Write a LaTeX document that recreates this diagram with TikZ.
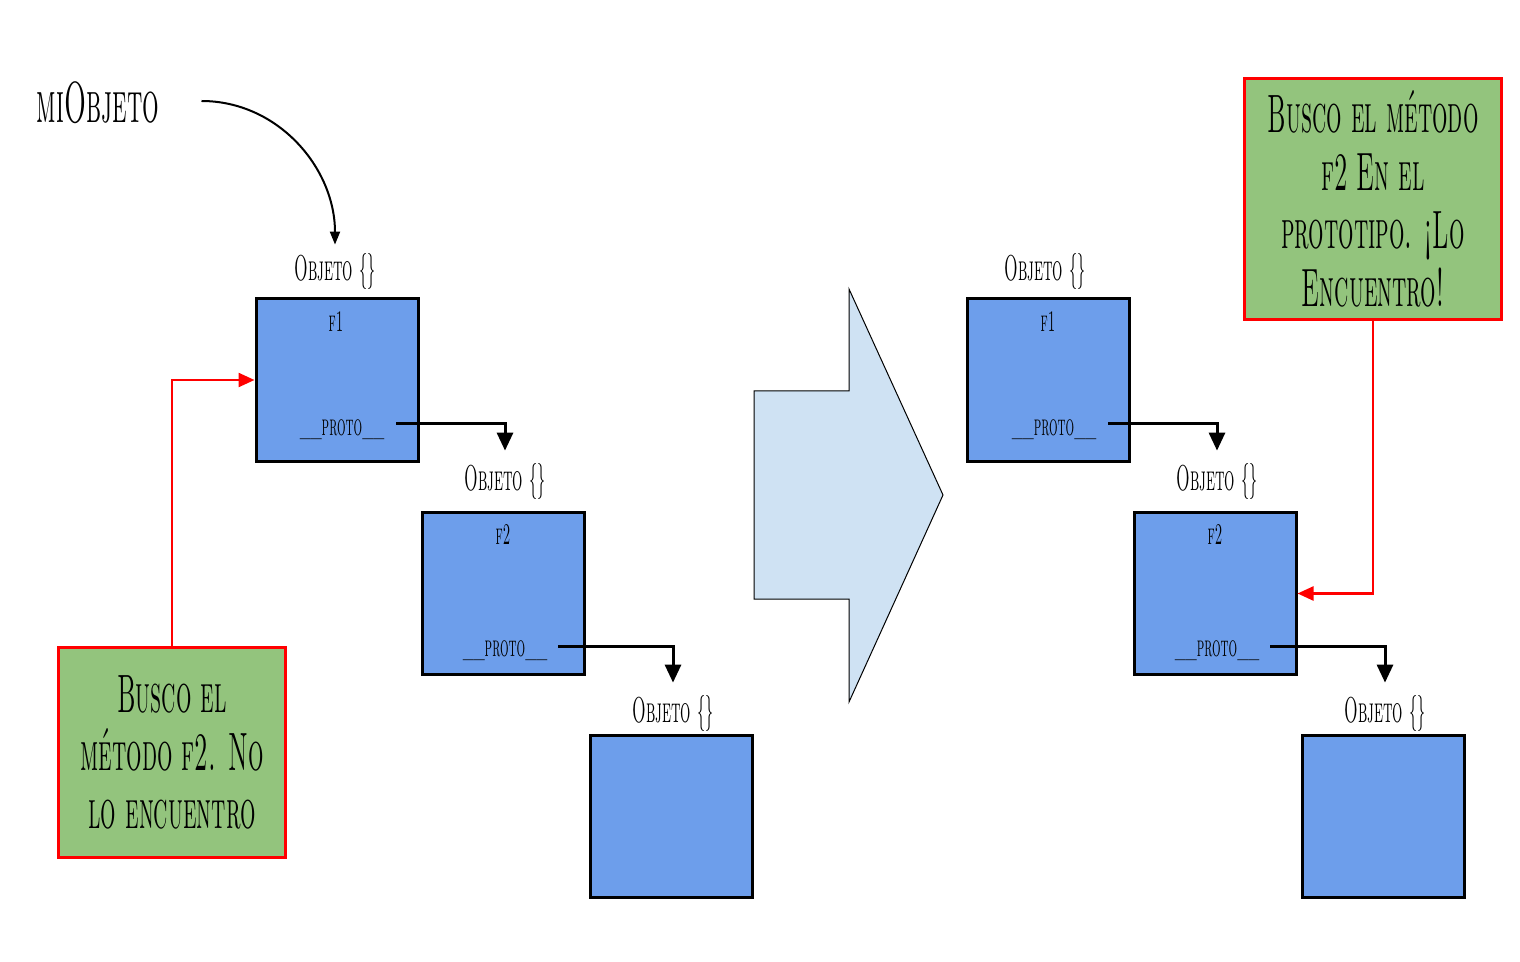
\documentclass[tikz,border=0pt]{standalone}
\usepackage{fontspec}
\newfontfamily\handfont{lmromancaps10-regular.otf}[FakeStretch=0.45]
\usetikzlibrary{arrows.meta}
\definecolor{boxblue}{HTML}{6D9EEB}
\definecolor{notegreen}{HTML}{93C47D}
\definecolor{arrowblue}{HTML}{CFE2F3}

\begin{document}
\begin{tikzpicture}[x=0.5pt,y=-0.5pt,
    obj/.style={rectangle,draw,line width=1.5pt,fill=boxblue,minimum size=81pt,inner sep=0pt},
    lbl/.style={inner sep=1pt,font=\handfont\fontsize{18}{20}\selectfont},
    fld/.style={inner sep=1pt,font=\handfont\fontsize{15}{17}\selectfont},
    note/.style={rectangle,draw=red,line width=1.5pt,fill=notegreen,align=center,inner sep=0pt,font=\handfont\fontsize{27}{29}\selectfont},
    link/.style={line width=1.5pt,-{Triangle[width=8pt,length=9pt]}},
    redlink/.style={red,line width=1.2pt,-{Triangle[width=7pt,length=8pt]}}]
  \useasboundingbox (0,0) rectangle (1520,962);

  % left side
  \node[inner sep=1pt,font=\handfont\fontsize{29}{32}\selectfont] (mi) at (98,103) {miObjeto};
  \node[lbl] (la) at (335,272) {Objeto \{\}};
  \node[obj] (oa) at (337,380) {};
  \node[fld] (fa) at (336,322) {f1};
  \node[fld] (pa) at (342,430) {\_\_proto\_\_};
  \node[lbl] (lb) at (505,481) {Objeto \{\}};
  \node[obj] (ob) at (503.5,593.5) {};
  \node[fld] (fb) at (503,535) {f2};
  \node[fld] (pb) at (505,651) {\_\_proto\_\_};
  \node[lbl] (lc) at (673,713) {Objeto \{\}};
  \node[obj] (oc) at (671.5,816.5) {};
  \node[note,minimum width=113.5pt,minimum height=105pt] (gl) at (172,752.5)
    {Busco el\\método f2. No\\lo encuentro};

  \coordinate (sa) at (396,424);
  \coordinate (sb) at (558,646);
  \draw[line width=1pt,-{Triangle[width=5pt,length=6.5pt]}] ([xshift=20pt,yshift=1pt]mi.east)
    to[out=0,in=90] ([yshift=3.5pt]la.north);
  \draw[link] (sa) -| ([yshift=5pt]lb.north);
  \draw[link] (sb) -| ([yshift=5pt]lc.north);
  \draw[redlink] (gl.north) |- (oa.west);

  % big arrow
  \draw[fill=arrowblue,line width=0.5pt] (754,391) -- (849,391) -- (849,289) -- (943,495)
    -- (849,702) -- (849,599) -- (754,599) -- cycle;

  % right side
  \node[lbl] (ld) at (1045,272) {Objeto \{\}};
  \node[obj] (od) at (1048,380) {};
  \node[fld] (fd) at (1048,322) {f1};
  \node[fld] (pd) at (1054,430) {\_\_proto\_\_};
  \node[lbl] (le) at (1217,481) {Objeto \{\}};
  \node[obj] (oe) at (1215,593.5) {};
  \node[fld] (fe) at (1215,535) {f2};
  \node[fld] (pe) at (1217,651) {\_\_proto\_\_};
  \node[lbl] (lf) at (1385,713) {Objeto \{\}};
  \node[obj] (of) at (1383,816.5) {};
  \node[note,minimum width=128.5pt,minimum height=120.5pt] (gr) at (1373,199)
    {Busco el método\\f2 En el\\prototipo. ¡Lo\\Encuentro!};

  \coordinate (sd) at (1108,424);
  \coordinate (se) at (1270,646);
  \draw[link] (sd) -| ([yshift=5pt]le.north);
  \draw[link] (se) -| ([yshift=5pt]lf.north);
  \draw[redlink] (gr.south) |- (oe.east);
\end{tikzpicture}
\end{document}
